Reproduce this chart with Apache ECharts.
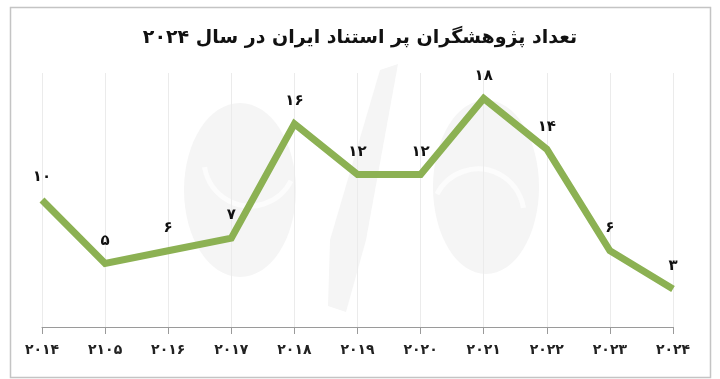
<!DOCTYPE html>
<html><head><meta charset="utf-8">
<script src="https://cdn.jsdelivr.net/npm/echarts@6/dist/echarts.min.js"></script>
<style>html,body{margin:0;padding:0;background:#fff}#c{width:720px;height:379px}</style>
</head><body><div id="c"></div>
<script>
const titleText = 'تعداد پژوهشگران پر استناد ایران در سال ۲۰۲۴';
const categories = ['۲۰۱۴','۲۱۰۵','۲۰۱۶','۲۰۱۷','۲۰۱۸','۲۰۱۹','۲۰۲۰','۲۰۲۱','۲۰۲۲','۲۰۲۳','۲۰۲۴'];
const values = [10, 5, 6, 7, 16, 12, 12, 18, 14, 6, 3];
const faDigits = '۰۱۲۳۴۵۶۷۸۹';
const toFa = n => String(n).replace(/\d/g, d => faDigits[+d]);
const FONT = '"DejaVu Sans", sans-serif';
const WM = '#f5f5f5';
const chart = echarts.init(document.getElementById('c'));
chart.setOption({
  backgroundColor: '#fff',
  animation: false,
  graphic: [
    { type: 'rect', left: 8, top: 5, shape: { width: 700, height: 370 },
      style: { fill: 'none', stroke: '#c4c4c4', lineWidth: 1.5 }, z: -10 },
    { type: 'ellipse', shape: { cx: 240, cy: 190, rx: 56, ry: 87 }, style: { fill: WM }, z: -10 },
    { type: 'ellipse', shape: { cx: 486, cy: 187, rx: 53, ry: 87 }, style: { fill: WM }, z: -10 },
    { type: 'polygon', shape: { points: [[380,70],[398,64],[366,240],[346,312],[328,306],[330,240]] }, style: { fill: WM }, z: -10 },
    { type: 'arc', shape: { cx: 250, cy: 160, r: 46, startAngle: Math.PI*0.15, endAngle: Math.PI*0.95 },
      style: { stroke: '#fcfcfc', lineWidth: 5, fill: 'none' }, z: -9 },
    { type: 'arc', shape: { cx: 478, cy: 215, r: 46, startAngle: Math.PI*1.15, endAngle: Math.PI*1.95 },
      style: { stroke: '#fcfcfc', lineWidth: 5, fill: 'none' }, z: -9 }
  ],
  title: {
    text: titleText, left: 'center', top: 24,
    textStyle: { fontFamily: FONT, fontSize: 19, fontWeight: 'bold', color: '#111' }
  },
  grid: { left: 42, right: 47, top: 73, bottom: 52 },
  xAxis: {
    type: 'category', data: categories, boundaryGap: false,
    axisLine: { lineStyle: { color: '#9a9a9a', width: 1 } },
    axisTick: { show: true, length: 7, lineStyle: { color: '#9a9a9a' } },
    splitLine: { show: true, lineStyle: { color: '#ebebeb', width: 1 } },
    axisLabel: { margin: 16, fontFamily: FONT, fontSize: 14, fontWeight: 'bold', color: '#222' }
  },
  yAxis: {
    type: 'value', min: 0, max: 20, show: false,
    splitLine: { show: false }
  },
  series: [{
    type: 'line', data: values,
    symbol: 'circle', symbolSize: 0, showSymbol: true,
    lineStyle: { color: '#8cb153', width: 7, join: 'miter' },
    itemStyle: { color: '#8cb153' },
    label: {
      show: true, position: 'top', distance: 15,
      formatter: p => toFa(p.value),
      fontFamily: FONT, fontSize: 15, fontWeight: 'bold', color: '#111'
    }
  }]
});
</script></body></html>
